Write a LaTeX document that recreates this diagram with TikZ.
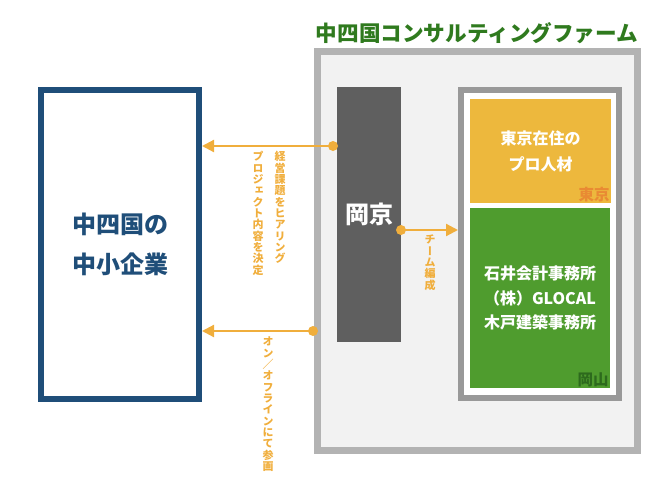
\documentclass[tikz,border=0pt]{standalone}
\usepackage{fontspec}
\setmainfont{Noto Sans CJK JP}
\setsansfont{Noto Sans CJK JP}
\newfontfamily\tatefont[RawFeature=+vert]{Noto Sans CJK JP}
\newfontfamily\yokofont{Noto Sans CJK JP}
\usetikzlibrary{arrows.meta, positioning, calc}
\definecolor{navy}{HTML}{1F4E79}
\definecolor{frame}{HTML}{B3B3B3}
\definecolor{framedark}{HTML}{999999}
\definecolor{wash}{HTML}{F2F2F2}
\definecolor{hub}{HTML}{5F5F5F}
\definecolor{accent}{HTML}{F0AE3C}
\definecolor{tokyofill}{HTML}{EDB83D}
\definecolor{tokyotag}{HTML}{E98A33}
\definecolor{okafill}{HTML}{4F9C2E}
\definecolor{okatag}{HTML}{2D6A1D}
\definecolor{titlegreen}{HTML}{2F7A1E}
\tikzset{
  font=\bfseries,
  %
  smebox/.style={
    draw=navy, line width=6pt, fill=white, text=navy, align=center,
    inner sep=0pt, font=\fontsize{24}{40}\selectfont\bfseries,
  },
  firmbox/.style={draw=frame, line width=7pt, fill=wash},
  teambox/.style={draw=framedark, line width=6pt, fill=white},
  hubbox/.style={fill=hub, text=white, inner sep=0pt,
                 font=\fontsize{24}{28}\selectfont\bfseries},
  cell/.style={text=white, align=center, inner sep=0pt},
  celltokyo/.style={cell, fill=tokyofill, font=\fontsize{16}{26}\selectfont\bfseries},
  cellokayama/.style={cell, fill=okafill, font=\fontsize{16}{24.5}\selectfont\bfseries},
  tag/.style={inner sep=1.5pt, font=\fontsize{15.5}{16}\selectfont\bfseries},
  %
  flow/.style={draw=accent, line width=2.2pt, -{Triangle[length=12pt, width=12pt]}},
  tatelbl/.style={text=accent, inner sep=0pt, font=\fontsize{11}{11}\selectfont},
  headline/.style={text=titlegreen, inner sep=0pt,
                   font=\fontsize{21.6}{24}\selectfont\bfseries},
}
% one character per line, top to bottom
\newcommand{\tateloop}[1]{%
  \ifx\relax#1\else
    \hbox to 1em{\hss\vrule height .88em depth .12em width 0pt\relax#1\hss}%
    \kern.03em
    \expandafter\tateloop
  \fi}
\newcommand{\tate}[1]{\vbox{\offinterlineskip\tatefont\bfseries\tateloop#1\relax}}

\begin{document}
\begin{tikzpicture}[x=1pt, y=-1pt]
  \useasboundingbox (0,0) rectangle (650,488);

  % ---- client -----------------------------------------------------------
  \node[smebox, minimum width=158, minimum height=309] (sme) at (120,244.5)
    {中四国の\\中小企業};

  % ---- firm -------------------------------------------------------------
  \node[firmbox, minimum width=320, minimum height=399] (firm) at (477.5,251) {};
  \node[headline] (firmtitle) at (477,33) {中四国コンサルティングファーム};

  \node[hubbox, minimum width=64, minimum height=255] (okakyo) at (369,214.5) {岡京};

  \node[teambox, minimum width=158, minimum height=308] (members) at (540,244) {};
  \node[celltokyo, minimum width=141, minimum height=104] (tokyo) at (540.5,151)
    {東京在住の\\プロ人材};
  \node[cellokayama, minimum width=140, minimum height=180] (okayama) at (540,298)
    {石井会計事務所\\（株）GLOCAL\\木戸建築事務所};

  \node[tag, text=tokyotag, anchor=south east] (tokyotag) at (tokyo.south east) {東京};
  \node[tag, text=okatag, anchor=south east] (okatag) at (okayama.south east) {岡山};

  % ---- connectors -------------------------------------------------------
  \coordinate (hear) at (333,146);
  \coordinate (join) at (313,331);
  \coordinate (team) at (401,230);

  \draw[flow] (hear) -- (hear -| sme.east);
  \draw[flow] (join) -- (join -| sme.east);
  \draw[flow] (team) -- (team -| members.west);
  \foreach \p in {hear, join, team} { \fill[accent] (\p) circle (5); }

  % ---- labels -----------------------------------------------------------
  \node[tatelbl, anchor=north] (hearlbl) at (280,151) {\tate{経営課題をヒアリング}};
  \node[tatelbl, anchor=north] (planlbl) at (258,151) {\tate{プロジェクト内容を決定}};
  \node[tatelbl, anchor=north] (joinlbl) at (268,336) {\tate{オン{\yokofont ／}オフラインにて参画}};
  \node[tatelbl, anchor=north] (teamlbl) at (430,234) {\tate{チーム編成}};

\end{tikzpicture}
\end{document}
